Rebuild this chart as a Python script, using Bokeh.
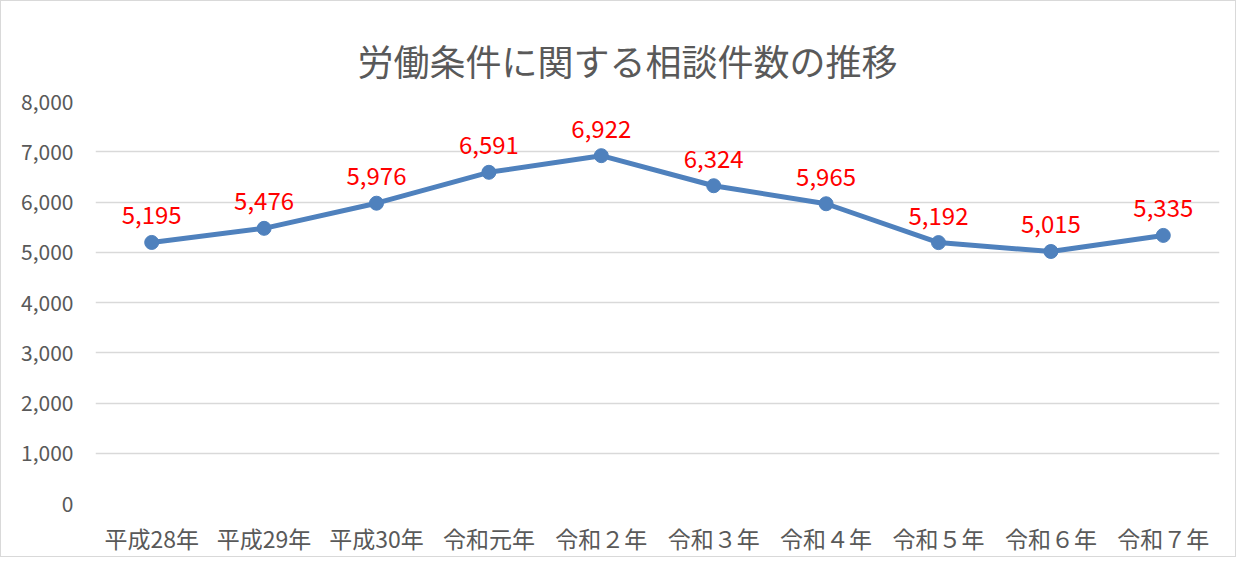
from bokeh.plotting import figure
from bokeh.models import ColumnDataSource, FactorRange, Range1d, FixedTicker, NumeralTickFormatter, Title
from bokeh.core.properties import value
from bokeh.embed import file_html
from bokeh.resources import INLINE

categories = ["平成28年", "平成29年", "平成30年", "令和元年", "令和２年",
              "令和３年", "令和４年", "令和５年", "令和６年", "令和７年"]
counts = [5195, 5476, 5976, 6591, 6922, 6324, 5965, 5192, 5015, 5335]
count_labels = [f"{v:,}" for v in counts]
y_ticks = [0, 1000, 2000, 3000, 4000, 5000, 6000, 7000, 8000]

FONT = "Noto Sans CJK JP"
TEXT_GREY = "#595959"

src = ColumnDataSource(dict(cat=categories, y=counts, lab=count_labels))

p = figure(width=1236, height=557, output_backend="svg", toolbar_location=None,
           x_range=FactorRange(factors=categories), y_range=Range1d(0, 8000),
           min_border_left=94, min_border_right=18, min_border_top=100, min_border_bottom=55,
           styles={"border": "1px solid #D9D9D9"})

t = Title(text="労働条件に関する相談件数の推移", align="left",
          text_font=FONT, text_font_size="36px", text_font_style="normal",
          text_color=TEXT_GREY, standoff=31, offset=262)
p.add_layout(t, "above")

p.outline_line_color = None
p.xgrid.grid_line_color = None
p.ygrid.grid_line_color = "#D9D9D9"
p.ygrid.grid_line_width = 1.5

p.yaxis.ticker = FixedTicker(ticks=y_ticks)
p.yaxis.formatter = NumeralTickFormatter(format="0,0")
for ax in (p.xaxis[0], p.yaxis[0]):
    ax.axis_line_color = None
    ax.major_tick_line_color = None
    ax.minor_tick_line_color = None
    ax.major_label_text_font = FONT
    ax.major_label_text_color = TEXT_GREY
p.yaxis.major_label_text_font_size = "21px"
p.xaxis.major_label_text_font_size = "23px"
p.yaxis.major_label_standoff = 16
p.xaxis.major_label_standoff = 11

p.line("cat", "y", source=src, line_color="#4F81BD", line_width=5)
p.scatter("cat", "y", source=src, size=14, fill_color="#4F81BD", line_color="#4F81BD")
p.text("cat", "y", text="lab", source=src, y_offset=-27,
       text_align="center", text_baseline="alphabetic",
       text_font=value(FONT), text_font_size="24px", text_color="#FF0000")

open("out.html", "w").write(file_html(p, INLINE))
